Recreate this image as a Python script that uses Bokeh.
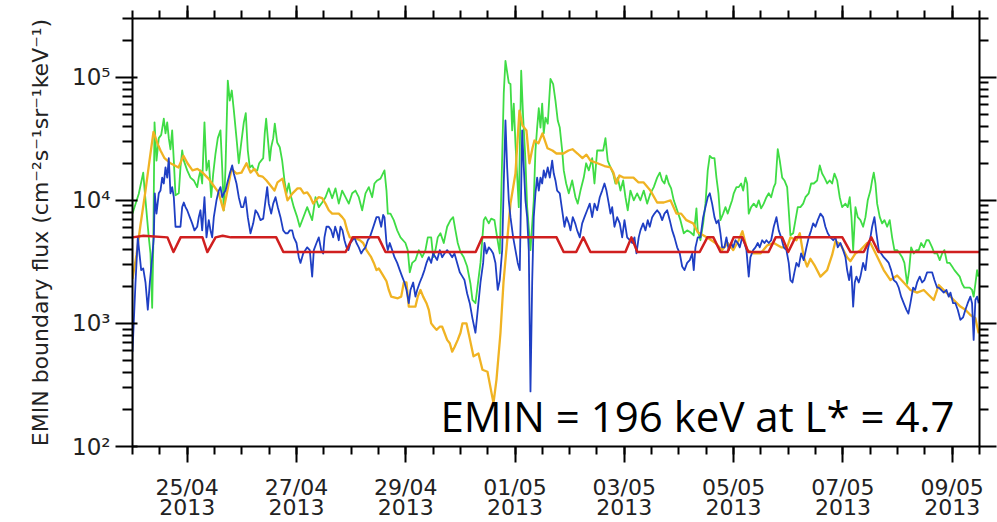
from bokeh.plotting import figure
from bokeh.models import LogAxis, LinearAxis, FixedTicker, CustomJSTickFormatter, Label
from bokeh.embed import file_html
from bokeh.resources import INLINE

# x = days since 2013-04-24 00:00 UT ; y = EMIN boundary flux
X_RANGE = (0.0, 15.5)
Y_RANGE = (1e2, 3e5)
XTICK_DAYS = [1, 3, 5, 7, 9, 11, 13, 15]
XTICK_LABELS = ["25/04\n2013", "27/04\n2013", "29/04\n2013", "01/05\n2013",
                "03/05\n2013", "05/05\n2013", "07/05\n2013", "09/05\n2013"]
XMINOR_DAYS = [i * 0.5 for i in range(32)]
YTICK_VALUES = [1e2, 1e3, 1e4, 1e5]
YTICK_LABELS = ["10²", "10³", "10⁴", "10⁵"]
YMINOR_VALUES = [m * 10.0 ** e for e in (2, 3, 4) for m in range(2, 10)] + [2e5, 3e5]
Y_LABEL = "EMIN boundary flux (cm⁻²s⁻¹sr⁻¹keV⁻¹)"
NOTE = "EMIN = 196 keV at L* = 4.7"

GREEN = [
    (0.000, 7.8e3), (0.115, 1.13e4), (0.196, 1.68e4), (0.238, 1.0e4), (0.298, 5.0e3),
    (0.329, 3.7e3), (0.360, 1.34e3), (0.379, 3.9e3), (0.403, 4.3e4), (0.439, 2.1e4),
    (0.481, 3.2e4), (0.525, 3.4e4), (0.573, 4.6e4), (0.604, 3.5e4), (0.635, 4.3e4),
    (0.664, 3.2e4), (0.695, 2.6e4), (0.726, 3.7e4), (0.756, 2.1e4), (0.787, 1.1e4),
    (0.847, 1.14e4), (0.878, 1.85e4), (0.909, 2.54e4), (0.939, 2.1e4), (1.001, 1.75e4),
    (1.061, 1.53e4), (1.122, 1.45e4), (1.184, 1.28e4), (1.213, 1.53e4), (1.244, 1.75e4),
    (1.275, 1.37e4), (1.317, 4.3e4), (1.354, 1.75e4), (1.396, 2.1e4), (1.440, 1.06e4),
    (1.477, 1.65e4), (1.519, 2.4e4), (1.561, 3.2e4), (1.610, 3.7e4), (1.641, 1.85e4),
    (1.671, 8.3e3), (1.702, 1.85e4), (1.744, 9.4e4), (1.780, 6.45e4), (1.817, 7.8e4),
    (1.854, 5.4e4), (1.903, 3.2e4), (1.945, 2.0e4), (1.989, 2.9e4), (2.037, 4.3e4),
    (2.073, 5.1e4), (2.110, 2.54e4), (2.146, 1.85e4), (2.190, 1.92e4), (2.232, 1.75e4),
    (2.282, 1.75e4), (2.318, 2.0e4), (2.355, 2.1e4), (2.392, 2.2e4), (2.421, 3.55e4),
    (2.446, 4.6e4), (2.476, 3.2e4), (2.512, 2.1e4), (2.538, 2.7e4), (2.575, 3.2e4),
    (2.604, 4.2e4), (2.648, 2.95e4), (2.695, 2.7e4), (2.739, 2.1e4), (2.781, 1.45e4),
    (2.818, 1.14e4), (2.860, 1.37e4), (2.904, 1.06e4), (2.952, 8.8e3), (3.014, 7.3e3),
    (3.061, 6.1e3), (3.197, 8.8e3), (3.288, 6.9e3), (3.349, 1.06e4), (3.409, 8.8e3),
    (3.471, 9.6e3), (3.532, 1.06e4), (3.592, 1.25e4), (3.654, 1.04e4), (3.715, 1.25e4),
    (3.775, 9.4e3), (3.837, 1.2e4), (3.898, 1.06e4), (3.958, 9.4e3), (4.020, 1.14e4),
    (4.080, 1.2e4), (4.141, 1.06e4), (4.203, 8.3e3), (4.264, 1.14e4), (4.324, 1.28e4),
    (4.386, 1.06e4), (4.428, 1.37e4), (4.478, 1.45e4), (4.538, 1.5e4), (4.611, 1.75e4),
    (4.648, 1.2e4), (4.672, 7.8e3), (4.721, 7.8e3), (4.781, 6.9e3), (4.844, 5.7e3),
    (4.904, 5.0e3), (4.995, 4.5e3), (5.037, 3.94e3), (5.074, 2.6e3), (5.118, 3.1e3),
    (5.178, 3.27e3), (5.239, 3.94e3), (5.301, 3.45e3), (5.361, 3.94e3), (5.404, 5.0e3),
    (5.466, 5.0e3), (5.502, 3.45e3), (5.544, 3.94e3), (5.586, 5.0e3), (5.636, 5.4e3),
    (5.696, 4.5e3), (5.758, 6.1e3), (5.819, 6.9e3), (5.868, 7.3e3), (5.910, 5.7e3),
    (5.952, 4.5e3), (6.002, 3.8e3), (6.062, 3.45e3), (6.124, 2.9e3), (6.185, 2.1e3),
    (6.221, 1.55e3), (6.276, 1.46e3), (6.368, 3.1e3), (6.428, 6.9e3), (6.459, 7.3e3),
    (6.520, 6.5e3), (6.564, 7.1e3), (6.624, 6.9e3), (6.673, 5.0e3), (6.721, 3.7e3),
    (6.794, 7.4e4), (6.825, 1.36e5), (6.886, 9.0e4), (6.917, 8.8e4), (6.948, 3.7e4),
    (6.977, 6.1e4), (7.008, 2.9e4), (7.069, 8.8e3), (7.113, 1.13e5), (7.149, 4.7e4),
    (7.191, 2.1e4), (7.222, 8.8e3), (7.283, 3.94e3), (7.343, 1.0e4), (7.374, 2.54e4),
    (7.405, 3.9e4), (7.435, 5.6e4), (7.466, 3.9e4), (7.497, 6.1e4), (7.526, 3.5e4),
    (7.557, 4.7e4), (7.599, 4.2e4), (7.649, 9.7e4), (7.698, 8.8e4), (7.740, 6.45e4),
    (7.782, 4.45e4), (7.819, 3.9e4), (7.863, 2.54e4), (7.892, 1.75e4), (7.936, 1.37e4),
    (7.984, 1.14e4), (8.046, 1.45e4), (8.106, 1.06e4), (8.148, 9.4e3), (8.198, 1.2e4),
    (8.258, 1.53e4), (8.302, 2.0e4), (8.350, 1.75e4), (8.412, 2.2e4), (8.454, 1.37e4),
    (8.503, 2.54e4), (8.564, 2.54e4), (8.613, 2.54e4), (8.655, 3.2e4), (8.697, 2.1e4),
    (8.747, 1.85e4), (8.796, 1.65e4), (8.838, 1.37e4), (8.880, 1.53e4), (8.930, 1.2e4),
    (8.979, 1.45e4), (9.021, 1.06e4), (9.063, 8.3e3), (9.112, 1.2e4), (9.173, 1.0e4),
    (9.235, 1.14e4), (9.295, 1.0e4), (9.356, 1.2e4), (9.418, 9.4e3), (9.479, 1.14e4),
    (9.539, 1.28e4), (9.601, 1.53e4), (9.649, 1.68e4), (9.693, 1.45e4), (9.735, 1.37e4),
    (9.771, 1.59e4), (9.813, 1.37e4), (9.857, 1.25e4), (9.905, 1.0e4), (9.967, 8.3e3),
    (10.027, 6.9e3), (10.088, 5.4e3), (10.150, 5.7e3), (10.210, 5.5e3), (10.271, 5.2e3),
    (10.320, 8.6e3), (10.344, 5.7e3), (10.393, 4.74e3), (10.443, 6.5e3), (10.485, 9.4e3),
    (10.527, 1.75e4), (10.564, 2.3e4), (10.607, 2.2e4), (10.650, 2.2e4), (10.686, 1.53e4),
    (10.723, 1.14e4), (10.759, 6.9e3), (10.809, 7.8e3), (10.851, 8.8e3), (10.893, 7.8e3),
    (10.930, 8.8e3), (10.973, 1.0e4), (11.003, 1.14e4), (11.052, 1.28e4), (11.094, 1.28e4),
    (11.138, 1.37e4), (11.175, 1.2e4), (11.217, 1.53e4), (11.248, 1.37e4), (11.277, 7.8e3),
    (11.321, 8.8e3), (11.369, 9.4e3), (11.418, 8.8e3), (11.460, 1.0e4), (11.504, 8.6e3),
    (11.552, 9.4e3), (11.601, 1.06e4), (11.643, 1.14e4), (11.687, 1.06e4), (11.735, 1.28e4),
    (11.766, 1.37e4), (11.808, 2.6e4), (11.845, 2.1e4), (11.889, 1.53e4), (11.930, 1.45e4),
    (11.980, 1.28e4), (12.009, 8.3e3), (12.040, 5.2e3), (12.090, 5.4e3), (12.132, 6.9e3),
    (12.174, 8.8e3), (12.223, 8.8e3), (12.273, 9.4e3), (12.315, 1.06e4), (12.375, 1.14e4),
    (12.419, 1.37e4), (12.467, 1.37e4), (12.529, 1.45e4), (12.577, 1.92e4), (12.620, 1.65e4),
    (12.662, 1.53e4), (12.712, 1.37e4), (12.760, 1.45e4), (12.803, 1.37e4), (12.846, 1.65e4),
    (12.895, 1.45e4), (12.942, 1.06e4), (12.986, 8.8e3), (13.047, 9.4e3), (13.089, 8.8e3),
    (13.126, 1.06e4), (13.157, 7.3e3), (13.188, 3.94e3), (13.230, 8.8e3), (13.272, 7.3e3),
    (13.321, 6.9e3), (13.370, 6.1e3), (13.413, 7.3e3), (13.455, 1.0e4), (13.504, 1.2e4),
    (13.535, 1.45e4), (13.565, 1.68e4), (13.596, 1.37e4), (13.627, 9.4e3), (13.675, 7.3e3),
    (13.718, 6.5e3), (13.761, 6.9e3), (13.810, 6.1e3), (13.857, 6.9e3), (13.901, 5.0e3),
    (13.943, 3.94e3), (13.993, 3.94e3), (14.040, 3.7e3), (14.084, 3.45e3), (14.126, 3.1e3),
    (14.176, 2.1e3), (14.212, 2.7e3), (14.249, 4.15e3), (14.297, 3.7e3), (14.346, 3.94e3),
    (14.388, 3.94e3), (14.432, 4.5e3), (14.480, 4.15e3), (14.529, 4.74e3), (14.571, 4.74e3),
    (14.633, 4.15e3), (14.675, 3.7e3), (14.725, 3.7e3), (14.772, 3.27e3), (14.816, 3.7e3),
    (14.858, 3.94e3), (14.907, 3.1e3), (14.955, 3.1e3), (14.999, 2.9e3), (15.041, 2.71e3),
    (15.090, 2.55e3), (15.138, 2.4e3), (15.182, 2.1e3), (15.224, 1.95e3), (15.273, 1.95e3),
    (15.321, 1.95e3), (15.364, 1.87e3), (15.393, 1.65e3), (15.425, 2.1e3), (15.456, 2.71e3),
    (15.480, 2.4e3),
]

BLUE = [
    (0.000, 590), (0.055, 2.15e3), (0.097, 5.0e3), (0.159, 2.71e3), (0.196, 2.8e3),
    (0.238, 2.15e3), (0.280, 1.29e3), (0.317, 2.15e3), (0.360, 3.45e3), (0.390, 5.0e3),
    (0.408, 1.14e4), (0.439, 7.8e3), (0.481, 1.14e4), (0.512, 1.2e4), (0.543, 1.53e4),
    (0.573, 1.37e4), (0.604, 1.85e4), (0.635, 1.53e4), (0.664, 2.2e4), (0.695, 1.14e4),
    (0.726, 1.28e4), (0.756, 1.06e4), (0.787, 6.1e3), (0.878, 6.1e3), (0.909, 8.8e3),
    (0.939, 9.6e3), (0.970, 8.8e3), (1.001, 8.3e3), (1.048, 7.3e3), (1.092, 6.5e3),
    (1.134, 5.7e3), (1.184, 6.1e3), (1.213, 7.3e3), (1.244, 8.3e3), (1.275, 5.7e3),
    (1.317, 1.06e4), (1.354, 5.0e3), (1.396, 6.9e3), (1.427, 5.7e3), (1.458, 5.0e3),
    (1.488, 7.3e3), (1.537, 1.0e4), (1.579, 1.2e4), (1.610, 1.28e4), (1.641, 1.06e4),
    (1.671, 1.14e4), (1.702, 1.2e4), (1.733, 1.37e4), (1.780, 1.65e4), (1.824, 1.92e4),
    (1.854, 1.65e4), (1.903, 1.37e4), (1.945, 1.06e4), (1.989, 8.8e3), (2.026, 8.8e3),
    (2.068, 1.06e4), (2.110, 7.3e3), (2.159, 5.4e3), (2.209, 6.5e3), (2.251, 8.3e3),
    (2.293, 7.8e3), (2.342, 6.9e3), (2.392, 7.1e3), (2.434, 1.0e4), (2.465, 1.28e4),
    (2.494, 9.4e3), (2.538, 7.8e3), (2.575, 9.4e3), (2.617, 1.06e4), (2.659, 8.8e3),
    (2.708, 7.3e3), (2.758, 5.7e3), (2.800, 5.4e3), (2.842, 5.4e3), (2.878, 5.7e3),
    (2.922, 5.7e3), (2.952, 5.0e3), (3.001, 4.5e3), (3.043, 3.45e3), (3.074, 3.1e3),
    (3.124, 3.7e3), (3.197, 4.15e3), (3.244, 3.94e3), (3.288, 2.4e3), (3.318, 3.94e3),
    (3.367, 4.5e3), (3.409, 5.0e3), (3.453, 3.94e3), (3.490, 3.7e3), (3.513, 5.0e3),
    (3.550, 6.1e3), (3.592, 6.1e3), (3.636, 5.7e3), (3.672, 5.0e3), (3.709, 6.1e3),
    (3.746, 5.4e3), (3.775, 4.74e3), (3.806, 6.1e3), (3.843, 5.7e3), (3.879, 4.74e3),
    (3.916, 4.15e3), (3.952, 3.94e3), (3.989, 4.5e3), (4.026, 4.74e3), (4.062, 5.0e3),
    (4.099, 4.5e3), (4.141, 4.15e3), (4.185, 3.7e3), (4.221, 3.94e3), (4.264, 4.15e3),
    (4.306, 4.74e3), (4.342, 5.0e3), (4.386, 5.7e3), (4.428, 6.5e3), (4.465, 7.3e3),
    (4.507, 7.3e3), (4.551, 6.1e3), (4.587, 7.6e3), (4.611, 7.3e3), (4.648, 4.5e3),
    (4.672, 3.94e3), (4.708, 4.5e3), (4.752, 3.94e3), (4.794, 3.45e3), (4.844, 3.1e3),
    (4.891, 2.71e3), (4.935, 2.4e3), (4.977, 2.15e3), (5.014, 1.87e3), (5.056, 1.46e3),
    (5.087, 1.87e3), (5.136, 2.15e3), (5.178, 1.65e3), (5.209, 1.87e3), (5.257, 2.15e3),
    (5.301, 2.4e3), (5.343, 2.71e3), (5.380, 3.1e3), (5.422, 3.45e3), (5.466, 3.1e3),
    (5.502, 3.7e3), (5.544, 3.45e3), (5.575, 3.27e3), (5.623, 3.94e3), (5.667, 3.45e3),
    (5.709, 3.7e3), (5.758, 3.94e3), (5.806, 3.7e3), (5.850, 3.45e3), (5.892, 3.7e3),
    (5.941, 3.1e3), (5.989, 2.6e3), (6.038, 2.4e3), (6.075, 2.25e3), (6.124, 1.75e3),
    (6.172, 1.46e3), (6.221, 1.1e3), (6.276, 840), (6.318, 1.29e3), (6.368, 2.15e3),
    (6.417, 3.1e3), (6.441, 4.5e3), (6.478, 3.7e3), (6.520, 4.15e3), (6.564, 3.94e3),
    (6.600, 3.7e3), (6.642, 3.1e3), (6.684, 1.87e3), (6.721, 2.25e3), (6.765, 3.94e3),
    (6.794, 1.37e4), (6.825, 4.45e4), (6.856, 1.85e4), (6.886, 1.0e4), (6.917, 7.3e3),
    (6.966, 5.0e3), (7.008, 3.94e3), (7.050, 3.1e3), (7.087, 2.71e3), (7.131, 3.7e4),
    (7.161, 1.85e4), (7.191, 1.0e4), (7.222, 7.3e3), (7.252, 3.94e3), (7.283, 280),
    (7.314, 2.15e3), (7.343, 7.3e3), (7.374, 1.14e4), (7.405, 1.53e4), (7.435, 1.2e4),
    (7.466, 1.53e4), (7.497, 1.37e4), (7.526, 1.75e4), (7.557, 1.53e4), (7.599, 1.85e4),
    (7.636, 1.53e4), (7.680, 2.1e4), (7.709, 1.65e4), (7.740, 1.45e4), (7.771, 1.2e4),
    (7.819, 1.14e4), (7.863, 8.3e3), (7.905, 6.1e3), (7.942, 7.3e3), (7.984, 6.5e3),
    (8.015, 5.7e3), (8.057, 7.3e3), (8.101, 6.5e3), (8.137, 5.7e3), (8.185, 5.0e3),
    (8.229, 6.5e3), (8.271, 7.3e3), (8.320, 8.3e3), (8.368, 9.4e3), (8.412, 7.3e3),
    (8.454, 9.4e3), (8.503, 8.3e3), (8.551, 1.06e4), (8.595, 1.2e4), (8.637, 1.37e4),
    (8.673, 1.2e4), (8.716, 9.4e3), (8.747, 7.8e3), (8.778, 8.8e3), (8.820, 6.1e3),
    (8.869, 7.3e3), (8.917, 6.5e3), (8.961, 5.0e3), (9.003, 6.9e3), (9.052, 5.0e3),
    (9.100, 4.74e3), (9.144, 4.5e3), (9.186, 5.0e3), (9.222, 3.7e3), (9.264, 5.0e3),
    (9.295, 5.7e3), (9.344, 6.5e3), (9.387, 5.7e3), (9.429, 6.9e3), (9.466, 6.1e3),
    (9.510, 7.3e3), (9.552, 7.8e3), (9.601, 8.3e3), (9.649, 7.8e3), (9.693, 6.9e3),
    (9.735, 7.8e3), (9.784, 8.3e3), (9.832, 6.9e3), (9.876, 5.7e3), (9.918, 5.0e3),
    (9.967, 4.15e3), (10.015, 3.7e3), (10.059, 2.9e3), (10.101, 2.71e3), (10.150, 3.1e3),
    (10.198, 3.27e3), (10.242, 3.7e3), (10.271, 2.71e3), (10.302, 4.15e3), (10.344, 5.0e3),
    (10.393, 5.0e3), (10.443, 7.3e3), (10.485, 8.8e3), (10.527, 1.06e4), (10.564, 1.14e4),
    (10.607, 9.4e3), (10.650, 7.3e3), (10.686, 6.5e3), (10.723, 6.9e3), (10.759, 5.4e3),
    (10.790, 4.15e3), (10.832, 4.15e3), (10.869, 5.0e3), (10.911, 3.94e3), (10.955, 4.5e3),
    (10.992, 4.15e3), (11.034, 4.74e3), (11.076, 4.5e3), (11.113, 4.15e3), (11.157, 5.0e3),
    (11.199, 4.5e3), (11.235, 3.94e3), (11.277, 2.4e3), (11.308, 3.45e3), (11.358, 3.94e3),
    (11.400, 4.15e3), (11.442, 4.5e3), (11.479, 4.15e3), (11.523, 4.74e3), (11.565, 4.5e3),
    (11.601, 4.74e3), (11.643, 4.5e3), (11.687, 4.74e3), (11.735, 6.1e3), (11.784, 7.3e3),
    (11.826, 5.7e3), (11.870, 5.0e3), (11.918, 4.15e3), (11.967, 3.94e3), (12.009, 3.1e3),
    (12.040, 2.25e3), (12.077, 2.15e3), (12.113, 2.6e3), (12.150, 3.1e3), (12.192, 2.9e3),
    (12.236, 3.7e3), (12.283, 3.27e3), (12.333, 4.15e3), (12.375, 5.0e3), (12.419, 5.7e3),
    (12.456, 6.5e3), (12.498, 6.1e3), (12.540, 6.9e3), (12.589, 7.8e3), (12.638, 7.3e3),
    (12.680, 6.1e3), (12.723, 5.4e3), (12.772, 5.0e3), (12.822, 4.74e3), (12.864, 5.0e3),
    (12.906, 4.15e3), (12.955, 4.5e3), (13.005, 3.94e3), (13.047, 3.45e3), (13.078, 2.71e3),
    (13.114, 2.25e3), (13.151, 2.9e3), (13.188, 1.37e3), (13.217, 2.15e3), (13.248, 2.4e3),
    (13.290, 2.15e3), (13.321, 2.4e3), (13.370, 3.1e3), (13.413, 2.71e3), (13.455, 3.94e3),
    (13.504, 5.0e3), (13.535, 6.1e3), (13.577, 7.3e3), (13.614, 5.4e3), (13.656, 3.94e3),
    (13.700, 3.7e3), (13.747, 3.45e3), (13.797, 3.27e3), (13.839, 3.1e3), (13.883, 2.71e3),
    (13.930, 2.25e3), (13.980, 2.15e3), (14.022, 1.95e3), (14.066, 1.65e3), (14.113, 1.46e3),
    (14.163, 1.29e3), (14.199, 1.2e3), (14.236, 1.46e3), (14.285, 1.95e3), (14.322, 1.87e3),
    (14.358, 2.15e3), (14.406, 2.4e3), (14.450, 2.15e3), (14.492, 2.25e3), (14.541, 2.6e3),
    (14.589, 2.6e3), (14.633, 2.6e3), (14.675, 2.25e3), (14.725, 1.95e3), (14.754, 1.95e3),
    (14.798, 1.87e3), (14.846, 1.78e3), (14.895, 1.87e3), (14.937, 1.65e3), (14.968, 1.78e3),
    (15.017, 1.46e3), (15.059, 1.46e3), (15.102, 1.29e3), (15.150, 1.07e3), (15.200, 1.12e3),
    (15.242, 1.29e3), (15.284, 1.46e3), (15.333, 1.65e3), (15.364, 1.46e3), (15.393, 735),
    (15.425, 1.55e3), (15.456, 1.65e3), (15.485, 1.46e3),
]

ORANGE = [
    (0.000, 2.3e3), (0.073, 3.6e3), (0.146, 6.3e3), (0.238, 1.2e4), (0.311, 2.1e4),
    (0.384, 3.6e4), (0.457, 2.9e4), (0.512, 2.54e4), (0.586, 2.2e4), (0.695, 2.0e4),
    (0.842, 1.85e4), (0.933, 2.3e4), (1.006, 2.0e4), (1.098, 1.75e4), (1.189, 1.8e4),
    (1.281, 1.68e4), (1.391, 1.5e4), (1.482, 1.32e4), (1.574, 1.16e4), (1.665, 8.3e3),
    (1.720, 1.1e4), (1.812, 1.8e4), (1.903, 1.65e4), (1.995, 1.68e4), (2.086, 2.0e4),
    (2.159, 1.68e4), (2.232, 1.8e4), (2.306, 1.59e4), (2.379, 1.56e4), (2.452, 1.45e4),
    (2.525, 1.32e4), (2.598, 1.2e4), (2.653, 1.4e4), (2.745, 1.5e4), (2.836, 1.0e4),
    (2.928, 1.14e4), (3.019, 1.25e4), (3.074, 1.25e4), (3.134, 1.14e4), (3.197, 1.16e4),
    (3.257, 1.06e4), (3.307, 9.4e3), (3.349, 1.0e4), (3.409, 1.06e4), (3.471, 1.04e4),
    (3.532, 9.4e3), (3.592, 8.3e3), (3.654, 7.8e3), (3.775, 7.8e3), (3.837, 7.3e3),
    (3.879, 6.9e3), (3.929, 5.7e3), (3.976, 5.0e3), (4.099, 4.9e3), (4.159, 4.74e3),
    (4.221, 4.5e3), (4.282, 3.94e3), (4.368, 3.45e3), (4.416, 3.1e3), (4.465, 2.71e3),
    (4.507, 2.8e3), (4.598, 2.4e3), (4.648, 2.2e3), (4.690, 1.87e3), (4.734, 1.65e3),
    (4.855, 1.6e3), (4.917, 1.65e3), (4.965, 2.15e3), (5.014, 2.15e3), (5.056, 1.37e3),
    (5.178, 1.37e3), (5.220, 1.65e3), (5.270, 1.87e3), (5.319, 1.65e3), (5.380, 1.46e3),
    (5.422, 1.29e3), (5.466, 1.0e3), (5.514, 940), (5.563, 886), (5.623, 940),
    (5.667, 940), (5.709, 840), (5.758, 735), (5.806, 690), (5.850, 590),
    (5.892, 640), (5.952, 735), (6.002, 840), (6.038, 1.0e3), (6.112, 1.0e3),
    (6.167, 770), (6.240, 540), (6.331, 570), (6.404, 420), (6.496, 405),
    (6.606, 225), (6.661, 350), (6.734, 840), (6.789, 2.15e3), (6.862, 5.0e3),
    (6.917, 9.4e3), (7.008, 1.65e4), (7.081, 5.36e4), (7.136, 4.05e4), (7.209, 3.7e4),
    (7.264, 2.0e4), (7.319, 2.65e4), (7.356, 3.06e4), (7.429, 2.9e4), (7.502, 3.5e4),
    (7.594, 2.65e4), (7.685, 2.54e4), (7.758, 2.4e4), (7.886, 2.4e4), (7.978, 2.54e4),
    (8.051, 2.6e4), (8.143, 2.4e4), (8.234, 2.2e4), (8.307, 2.35e4), (8.380, 2.1e4),
    (8.509, 2.0e4), (8.637, 1.9e4), (8.747, 1.85e4), (8.801, 1.68e4), (8.856, 1.37e4),
    (8.911, 1.59e4), (8.984, 1.53e4), (9.076, 1.53e4), (9.167, 1.53e4), (9.259, 1.4e4),
    (9.350, 1.4e4), (9.478, 1.2e4), (9.601, 9.6e3), (9.722, 9.6e3), (9.845, 1.0e4),
    (9.954, 7.8e3), (10.040, 7.8e3), (10.137, 6.9e3), (10.260, 6.5e3), (10.344, 5.5e3),
    (10.443, 5.2e3), (10.545, 4.9e3), (10.668, 4.5e3), (10.790, 3.94e3), (10.893, 4.5e3),
    (10.992, 3.94e3), (11.094, 4.74e3), (11.162, 5.6e3), (11.248, 3.94e3), (11.369, 3.7e3),
    (11.491, 3.7e3), (11.614, 4.3e3), (11.735, 4.5e3), (11.870, 4.15e3), (11.980, 4.15e3),
    (12.040, 5.0e3), (12.150, 4.74e3), (12.211, 5.4e3), (12.284, 3.45e3), (12.346, 2.9e3),
    (12.406, 3.35e3), (12.479, 2.98e3), (12.589, 2.4e3), (12.712, 2.71e3), (12.803, 3.6e3),
    (12.864, 4.65e3), (12.955, 4.4e3), (13.078, 3.45e3), (13.139, 3.2e3), (13.230, 3.7e3),
    (13.321, 3.94e3), (13.443, 4.5e3), (13.504, 4.5e3), (13.627, 3.5e3), (13.747, 2.71e3),
    (13.870, 2.25e3), (13.993, 2.45e3), (14.113, 2.15e3), (14.236, 1.87e3), (14.358, 1.78e3),
    (14.480, 1.87e3), (14.571, 1.7e3), (14.663, 1.55e3), (14.754, 2.05e3), (14.846, 1.87e3),
    (14.937, 1.7e3), (15.029, 1.55e3), (15.150, 1.37e3), (15.242, 1.29e3), (15.333, 1.17e3),
    (15.425, 1.1e3), (15.485, 830),
]

RED = [
    (0.00, 5000), (0.20, 5150), (0.64, 5000), (0.75, 3800), (0.88, 5000), (1.28, 5000),
    (1.37, 3800), (1.52, 5000), (1.65, 5150), (1.80, 5000), (2.63, 5000), (2.76, 3800),
    (3.90, 3800), (4.03, 5000), (4.50, 5000), (4.63, 3800), (6.28, 3800), (6.40, 5000),
    (7.76, 5000), (7.89, 3800), (8.12, 3800), (8.25, 5000), (8.38, 3800), (9.02, 3800),
    (9.13, 5000), (9.24, 3800), (10.38, 3800), (10.52, 5000), (10.63, 5000), (10.76, 3800),
    (10.89, 3800), (11.00, 5000), (11.16, 5000), (11.27, 3800), (11.64, 3800), (11.77, 5000),
    (11.89, 5000), (12.00, 3800), (12.13, 5000), (12.99, 5000), (13.14, 3800), (13.38, 3800),
    (13.52, 5000), (13.65, 3800), (15.50, 3800),
]

FONT = "DejaVu Sans"

p = figure(width=997, height=522, x_range=X_RANGE, y_range=Y_RANGE,
           y_axis_type="log", output_backend="svg", toolbar_location=None,
           min_border_left=132, min_border_right=18, min_border_top=18,
           min_border_bottom=75)
p.grid.visible = False
p.outline_line_color = None
p.background_fill_color = "white"
p.border_fill_color = "white"


def style_axis(ax, major_out, minor_out, major_in=0):
    ax.axis_line_color = "black"
    ax.axis_line_width = 2
    ax.major_tick_line_color = "black"
    ax.major_tick_line_width = 2
    ax.minor_tick_line_color = "black"
    ax.minor_tick_line_width = 2
    ax.major_tick_out = major_out
    ax.major_tick_in = major_in
    ax.minor_tick_out = minor_out
    ax.minor_tick_in = 0


xb = p.xaxis[0]
xb.ticker = FixedTicker(ticks=XTICK_DAYS, minor_ticks=XMINOR_DAYS)
xb.major_label_overrides = dict(zip(XTICK_DAYS, XTICK_LABELS))
style_axis(xb, 16, 8)
xb.major_label_text_font = FONT
xb.major_label_text_font_size = "22px"
xb.major_label_text_color = "#222222"
xb.major_label_text_line_height = 0.8
xb.major_label_standoff = 12

yl = p.yaxis[0]
yl.ticker = FixedTicker(ticks=YTICK_VALUES, minor_ticks=YMINOR_VALUES)
yl.major_label_overrides = dict(zip(YTICK_VALUES, YTICK_LABELS))
style_axis(yl, 17, 10, major_in=5)
yl.major_label_text_font = FONT
yl.major_label_text_font_size = "23px"
yl.major_label_text_color = "#222222"
yl.major_label_standoff = 5
yl.axis_label = Y_LABEL
yl.axis_label_text_font = FONT
yl.axis_label_text_font_size = "22px"
yl.axis_label_text_font_style = "normal"
yl.axis_label_text_color = "#222222"
yl.axis_label_standoff = 16

blank = "return ''"
top = LinearAxis(ticker=FixedTicker(ticks=XTICK_DAYS, minor_ticks=XMINOR_DAYS),
                 formatter=CustomJSTickFormatter(code=blank),
                 major_label_text_font_size="0px", major_label_standoff=0)
style_axis(top, 13, 8)
p.add_layout(top, "above")

right = LogAxis(ticker=FixedTicker(ticks=YTICK_VALUES, minor_ticks=YMINOR_VALUES),
                formatter=CustomJSTickFormatter(code=blank),
                major_label_text_font_size="0px", major_label_standoff=0)
style_axis(right, 17, 9)
p.add_layout(right, "right")

series = [
    (GREEN, "#3fdc45", 1.8),
    (ORANGE, "#f0b323", 2.3),
    (BLUE, "#1f3fc4", 1.8),
    (RED, "#d01f1f", 2.5),
]
for pts, color, lw in series:
    days = [d for d, _ in pts]
    flux = [f for _, f in pts]
    p.line(days, flux, line_color=color, line_width=lw, line_join="round")

note = Label(x=5.636, y=180, text=NOTE, text_font="Open Sans", text_font_size="42px",
             text_color="black", text_baseline="alphabetic")
p.add_layout(note)

open("out.html", "w").write(file_html(p, INLINE))
